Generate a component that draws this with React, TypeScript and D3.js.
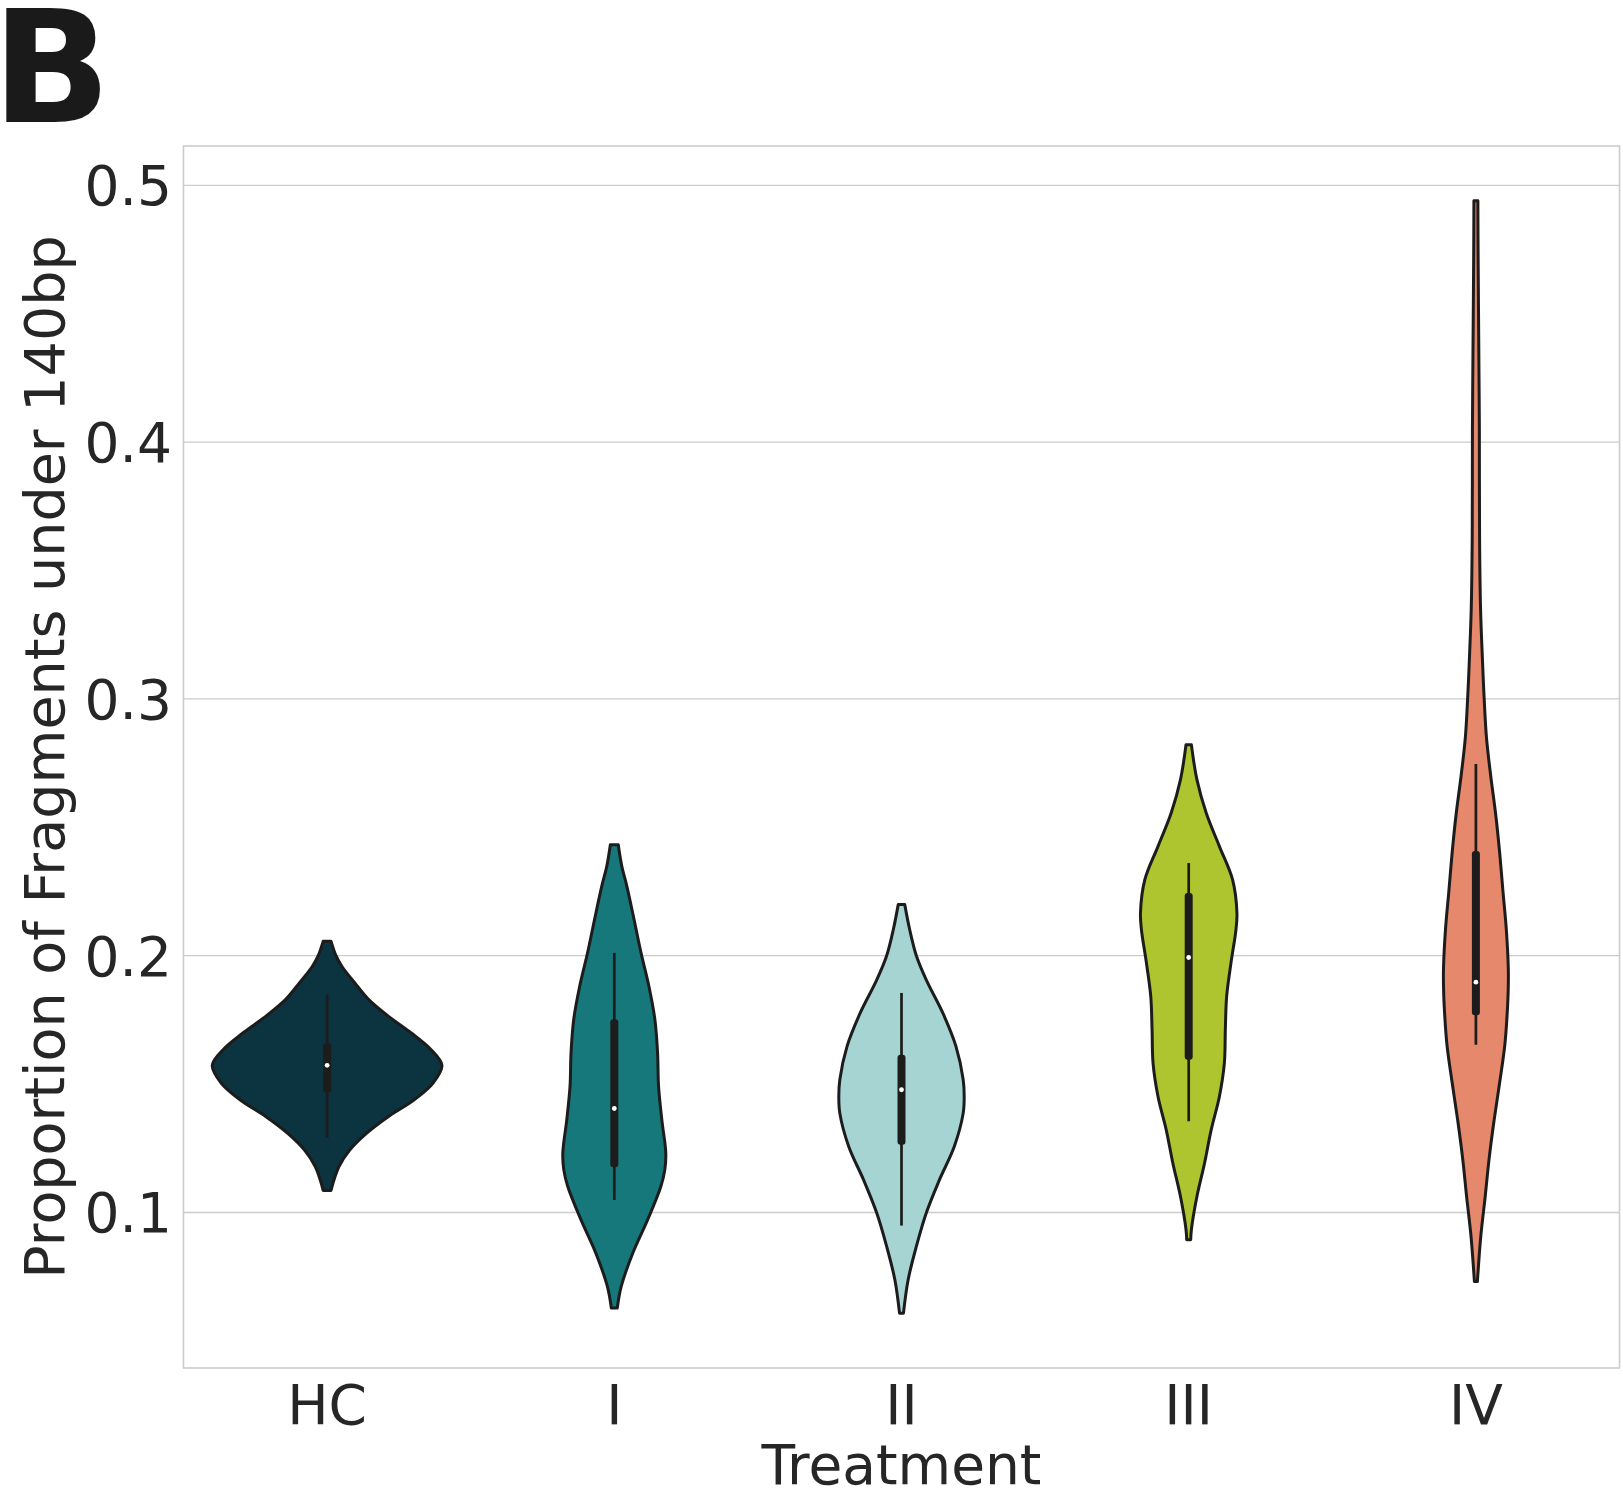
import React from "react";
import * as d3 from "d3";

const categories = ["HC", "I", "II", "III", "IV"];
const fillColors = ["#0b3340", "#17787b", "#a6d4d3", "#afc52f", "#e5886b"];
const yTicks = [0.1, 0.2, 0.3, 0.4, 0.5];

// density profiles: [value, relative density]
const hcDensity: [number, number][] = [
  [0.2056, 4], [0.2, 9], [0.1958, 15], [0.1894, 28], [0.1829, 42], [0.1764, 62],
  [0.1699, 85], [0.1634, 105], [0.1573, 116], [0.1504, 107], [0.1439, 88],
  [0.1374, 62], [0.1309, 40], [0.1244, 23], [0.1179, 12], [0.1115, 6], [0.1086, 4],
];
const iDensity: [number, number][] = [
  [0.2432, 4], [0.235, 7.5], [0.227, 12.7], [0.214, 20], [0.2011, 27], [0.188, 35], [0.1751, 41],
  [0.1621, 43.7], [0.1491, 44.7], [0.1361, 48], [0.1231, 52], [0.1166, 51],
  [0.1101, 47], [0.0972, 33.7], [0.0842, 18.7], [0.0712, 7], [0.0628, 3],
];
const iiDensity: [number, number][] = [
  [0.2199, 3.3], [0.2101, 8.3], [0.2, 15], [0.1906, 25], [0.1777, 41.7], [0.1647, 55],
  [0.1517, 62.3], [0.1452, 63.3], [0.1387, 62.3], [0.1257, 53.3], [0.1127, 38.3],
  [0.0998, 25], [0.0868, 15], [0.0738, 6.7], [0.0608, 2],
];
const iiiDensity: [number, number][] = [
  [0.2822, 2.7], [0.2686, 8.3], [0.2556, 17.7], [0.2426, 31], [0.2296, 44.3],
  [0.2166, 48.7], [0.2101, 47.7], [0.1972, 42.7], [0.1841, 38.3], [0.1712, 37],
  [0.1582, 36], [0.1452, 31], [0.1322, 22.7], [0.1192, 16], [0.1062, 8.3],
  [0.0933, 2.7], [0.0894, 2],
];
const ivDensity: [number, number][] = [
  [0.494, 2], [0.4745, 2.2], [0.4327, 3], [0.4049, 3.5], [0.3631, 3.7], [0.3353, 4.7],
  [0.3144, 6.7], [0.3005, 8.3], [0.2848, 10.7], [0.2699, 15], [0.255, 20],
  [0.2401, 24], [0.2252, 27.3], [0.2103, 30.7], [0.1954, 32.7], [0.1879, 32.7],
  [0.1804, 32], [0.1656, 29.3], [0.1506, 24], [0.1357, 18.3], [0.1208, 13.3],
  [0.1059, 9.3], [0.091, 5], [0.0731, 1.5],
];
const densities = [hcDensity, iDensity, iiDensity, iiiDensity, ivDensity];

// box stats: whisker low, q1, median, q3, whisker high
const whiskerLow = [0.129, 0.1049, 0.0949, 0.1355, 0.1653];
const q1 = [0.1467, 0.1176, 0.1264, 0.1595, 0.1768];
const medians = [0.1573, 0.1405, 0.1478, 0.1993, 0.1897];
const q3 = [0.166, 0.1753, 0.1614, 0.2244, 0.2408];
const whiskerHigh = [0.1848, 0.2011, 0.1855, 0.2361, 0.2747];

const W = 1623;
const H = 1490;
const M = { left: 183.5, right: 1619.5, top: 146, bottom: 1368 };
const TEXT = "#262626";
const EDGE = "#1c1c1c";
const FONT = "DejaVu Sans, sans-serif";
const FS = 55;

export default function App() {
  const x = d3.scaleBand<string>().domain(categories).range([M.left, M.right]).padding(0);
  const y = d3.scaleLinear().domain([0.03944, 0.51534]).range([M.bottom, M.top]);
  const maxD = d3.max(densities.flat(), (d) => d[1]) as number;
  const w = d3.scaleLinear().domain([0, maxD]).range([0, x.bandwidth() * 0.4]);

  return (
    <svg
      width={W}
      height={H}
      style={{ position: "absolute", left: 0, top: 0, background: "#fff" }}
      fontFamily={FONT}
    >
      <rect x={0} y={0} width={W} height={H} fill="#fff" />
      {yTicks.map((t) => (
        <line key={t} x1={M.left} x2={M.right} y1={y(t)} y2={y(t)} stroke="#cccccc" strokeWidth={1.3} />
      ))}
      <rect
        x={M.left}
        y={M.top}
        width={M.right - M.left}
        height={M.bottom - M.top}
        fill="none"
        stroke="#cccccc"
        strokeWidth={1.6}
      />
      {categories.map((c, i) => {
        const cx = (x(c) as number) + x.bandwidth() / 2;
        const area = d3
          .area<[number, number]>()
          .y((d) => y(d[0]))
          .x0((d) => cx - w(d[1]))
          .x1((d) => cx + w(d[1]))
          .curve(d3.curveCatmullRom.alpha(0.5));
        const boxW = 8;
        return (
          <g key={c}>
            <path d={area(densities[i]) as string} fill={fillColors[i]} stroke={EDGE} strokeWidth={3} strokeLinejoin="round" />
            <line x1={cx} x2={cx} y1={y(whiskerLow[i])} y2={y(whiskerHigh[i])} stroke={EDGE} strokeWidth={2.7} />
            <rect
              x={cx - boxW / 2}
              y={y(q3[i])}
              width={boxW}
              height={y(q1[i]) - y(q3[i])}
              rx={3}
              fill={EDGE}
            />
            <circle cx={cx} cy={y(medians[i])} r={2.4} fill="#fff" />
          </g>
        );
      })}
      {yTicks.map((t) => (
        <text key={t} x={172} y={y(t) + 20} textAnchor="end" fontSize={FS} fill={TEXT}>
          {t.toFixed(1)}
        </text>
      ))}
      {categories.map((c) => (
        <text key={c} x={(x(c) as number) + x.bandwidth() / 2} y={1424} textAnchor="middle" fontSize={FS} fill={TEXT}>
          {c}
        </text>
      ))}
      <text x={(M.left + M.right) / 2} y={1484} textAnchor="middle" fontSize={FS} fill={TEXT}>
        Treatment
      </text>
      <text
        transform={`translate(64,${(M.top + M.bottom) / 2}) rotate(-90)`}
        textAnchor="middle"
        fontSize={55.5}
        fill={TEXT}
      >
        Proportion of Fragments under 140bp
      </text>
      <text x={-8} y={122} fontSize={156} fontWeight="bold" fill="#1a1a1a">
        B
      </text>
    </svg>
  );
}
